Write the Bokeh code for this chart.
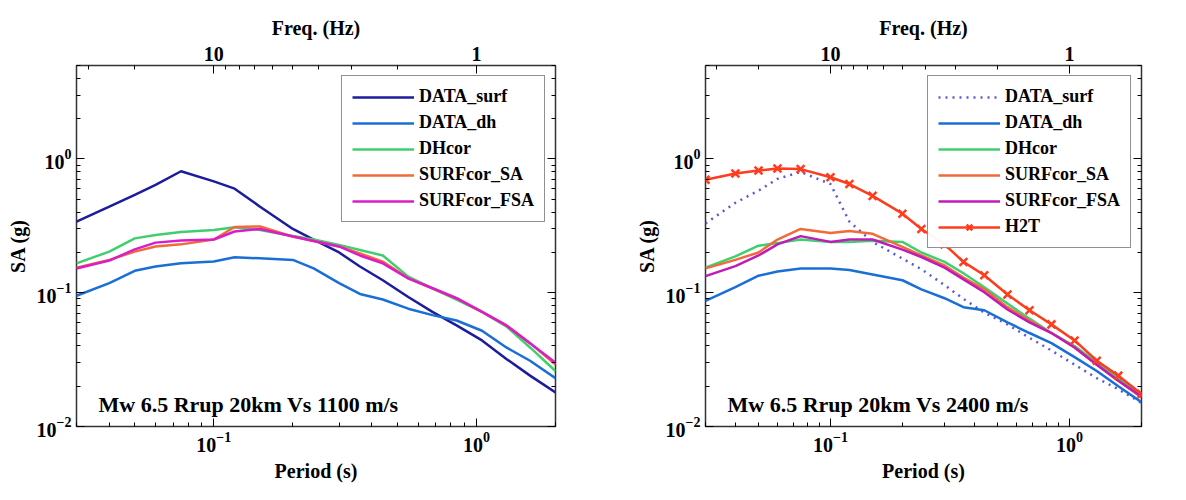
from bokeh.plotting import figure
from bokeh.models import (LogAxis, FixedTicker, CustomJSTickFormatter, Legend,
                          LegendItem, Label, Range1d)
from bokeh.layouts import row
from bokeh.embed import file_html
from bokeh.resources import INLINE

periods = [0.03, 0.04, 0.05, 0.06, 0.075, 0.1, 0.12, 0.15, 0.2, 0.24, 0.3,
           0.36, 0.44, 0.55, 0.68, 0.84, 1.05, 1.3, 1.6, 2.0]

# left panel (Vs 1100 m/s)
surf_1100 = [0.34, 0.44, 0.54, 0.64, 0.81, 0.68, 0.60, 0.44, 0.30, 0.25, 0.20,
             0.157, 0.124, 0.093, 0.072, 0.057, 0.044, 0.032, 0.024, 0.018]
dh_1100 = [0.095, 0.118, 0.146, 0.157, 0.166, 0.171, 0.184, 0.181, 0.176, 0.152, 0.118,
           0.098, 0.089, 0.076, 0.068, 0.062, 0.052, 0.039, 0.031, 0.023]
dhcor_1100 = [0.166, 0.203, 0.255, 0.27, 0.284, 0.295, 0.309, 0.295, 0.266, 0.25, 0.228,
              0.209, 0.19, 0.132, 0.108, 0.089, 0.072, 0.056, 0.039, 0.026]
sa_1100 = [0.154, 0.176, 0.203, 0.222, 0.23, 0.25, 0.31, 0.313, 0.263, 0.244, 0.222,
           0.197, 0.171, 0.128, 0.108, 0.091, 0.072, 0.057, 0.042, 0.029]
fsa_1100 = [0.152, 0.174, 0.211, 0.237, 0.246, 0.25, 0.287, 0.30, 0.263, 0.244, 0.222,
            0.19, 0.166, 0.128, 0.108, 0.091, 0.072, 0.057, 0.042, 0.030]

# right panel (Vs 2400 m/s)
surf_2400 = [0.33, 0.47, 0.58, 0.71, 0.80, 0.65, 0.34, 0.24, 0.18, 0.15, 0.114,
             0.09, 0.071, 0.058, 0.046, 0.037, 0.029, 0.023, 0.019, 0.015]
dh_2400 = [0.087, 0.11, 0.134, 0.144, 0.152, 0.152, 0.148, 0.137, 0.124, 0.106, 0.091,
           0.078, 0.074, 0.060, 0.050, 0.042, 0.033, 0.026, 0.020, 0.0152]
dhcor_2400 = [0.154, 0.187, 0.225, 0.235, 0.25, 0.24, 0.24, 0.245, 0.24, 0.20, 0.17,
              0.14, 0.11, 0.083, 0.064, 0.050, 0.040, 0.030, 0.023, 0.0171]
sa_2400 = [0.152, 0.176, 0.20, 0.25, 0.30, 0.28, 0.29, 0.276, 0.22, 0.19, 0.16,
           0.13, 0.106, 0.078, 0.062, 0.050, 0.039, 0.029, 0.022, 0.0165]
fsa_2400 = [0.133, 0.158, 0.19, 0.23, 0.265, 0.24, 0.25, 0.25, 0.21, 0.185, 0.154,
            0.126, 0.101, 0.075, 0.060, 0.050, 0.039, 0.029, 0.022, 0.0168]
h2t_2400 = [0.70, 0.78, 0.82, 0.85, 0.84, 0.73, 0.65, 0.53, 0.39, 0.30, 0.23,
            0.17, 0.135, 0.097, 0.074, 0.058, 0.044, 0.031, 0.024, 0.0175]

FONT = "Liberation Serif"
freq_major = [10, 1]
freq_minor = [30, 20, 9, 8, 7, 6, 5, 4, 3, 2]
y_minor = [0.02, 0.03, 0.04, 0.05, 0.06, 0.07, 0.08, 0.09,
           0.2, 0.3, 0.4, 0.5, 0.6, 0.7, 0.8, 0.9, 2, 3, 4, 5]


def style_axis(ax):
    ax.major_tick_in = 8
    ax.major_tick_out = 0
    ax.minor_tick_in = 4
    ax.minor_tick_out = 0
    ax.axis_line_color = None
    ax.major_label_text_font = FONT
    ax.major_label_text_font_style = "bold"
    ax.major_label_text_font_size = "20px"
    ax.major_label_text_color = "black"
    ax.axis_label_text_font = FONT
    ax.axis_label_text_font_style = "bold"
    ax.axis_label_text_font_size = "20px"
    ax.axis_label_text_color = "black"


def make_panel(series, note, width, border_left):
    p = figure(width=width, height=484, x_axis_type="log", y_axis_type="log",
               x_range=Range1d(0.03, 2.0), y_range=Range1d(0.01, 5.0),
               output_backend="svg", toolbar_location=None,
               min_border_left=border_left, min_border_right=28, min_border_top=65,
               min_border_bottom=5)
    p.grid.visible = False
    p.outline_line_color = "#333333"
    p.outline_line_width = 1.5
    p.xaxis.axis_label = "Period (s)"
    p.yaxis.axis_label = "SA (g)"
    p.xaxis.ticker = FixedTicker(ticks=[0.1, 1.0],
                                 minor_ticks=[0.03, 0.04, 0.05, 0.06, 0.07, 0.08, 0.09,
                                              0.2, 0.3, 0.4, 0.5, 0.6, 0.7, 0.8, 0.9, 2.0])
    p.yaxis.ticker = FixedTicker(ticks=[0.01, 0.1, 1.0], minor_ticks=y_minor)
    style_axis(p.xaxis[0])
    style_axis(p.yaxis[0])

    top = LogAxis(axis_label="Freq. (Hz)",
                  ticker=FixedTicker(ticks=[1.0 / f for f in freq_major],
                                     minor_ticks=[1.0 / f for f in freq_minor]),
                  formatter=CustomJSTickFormatter(code="return (1/tick).toFixed(0)"))
    style_axis(top)
    p.add_layout(top, "above")
    right = LogAxis(ticker=FixedTicker(ticks=[0.01, 0.1, 1.0], minor_ticks=y_minor))
    style_axis(right)
    right.major_label_text_alpha = 0
    right.major_label_text_font_size = "1px"
    p.add_layout(right, "right")

    items = []
    for name, ys, color, dash, marker in series:
        r = p.line(periods, ys, line_color=color, line_width=2.5, line_dash=dash)
        rs = [r]
        if marker:
            rs.append(p.scatter(periods, ys, marker="x", size=11, line_color=color,
                                line_width=2.5))
        items.append(LegendItem(label=name, renderers=rs))
    leg = Legend(items=items, location="top_right", border_line_color="#222222",
                 border_line_width=1.5, label_text_font=FONT,
                 label_text_font_style="bold", label_text_font_size="18px",
                 label_text_color="black", glyph_width=62, spacing=5,
                 padding=10, margin=10)
    p.add_layout(leg)

    p.add_layout(Label(x=22, y=10, x_units="screen", y_units="screen", text=note,
                       text_font=FONT, text_font_style="bold", text_color="black",
                       text_font_size="22px"))
    return p


left = make_panel([
    ("DATA_surf", surf_1100, "#1c1c9c", "solid", False),
    ("DATA_dh", dh_1100, "#1a6fd6", "solid", False),
    ("DHcor", dhcor_1100, "#3fcf6f", "solid", False),
    ("SURFcor_SA", sa_1100, "#f06a3a", "solid", False),
    ("SURFcor_FSA", fsa_1100, "#d91ec8", "solid", False),
], "Mw 6.5 Rrup 20km Vs 1100 m/s", 583, 76)

right_p = make_panel([
    ("DATA_surf", surf_2400, "#5a5ad0", "2 5", False),
    ("DATA_dh", dh_2400, "#1a6fd6", "solid", False),
    ("DHcor", dhcor_2400, "#3fcf6f", "solid", False),
    ("SURFcor_SA", sa_2400, "#f06a3a", "solid", False),
    ("SURFcor_FSA", fsa_2400, "#c21ab8", "solid", False),
    ("H2T", h2t_2400, "#ff3c1e", "solid", True),
], "Mw 6.5 Rrup 20km Vs 2400 m/s", 586, 122)

p = row(left, right_p)
open("out.html", "w").write(file_html(p, INLINE))
